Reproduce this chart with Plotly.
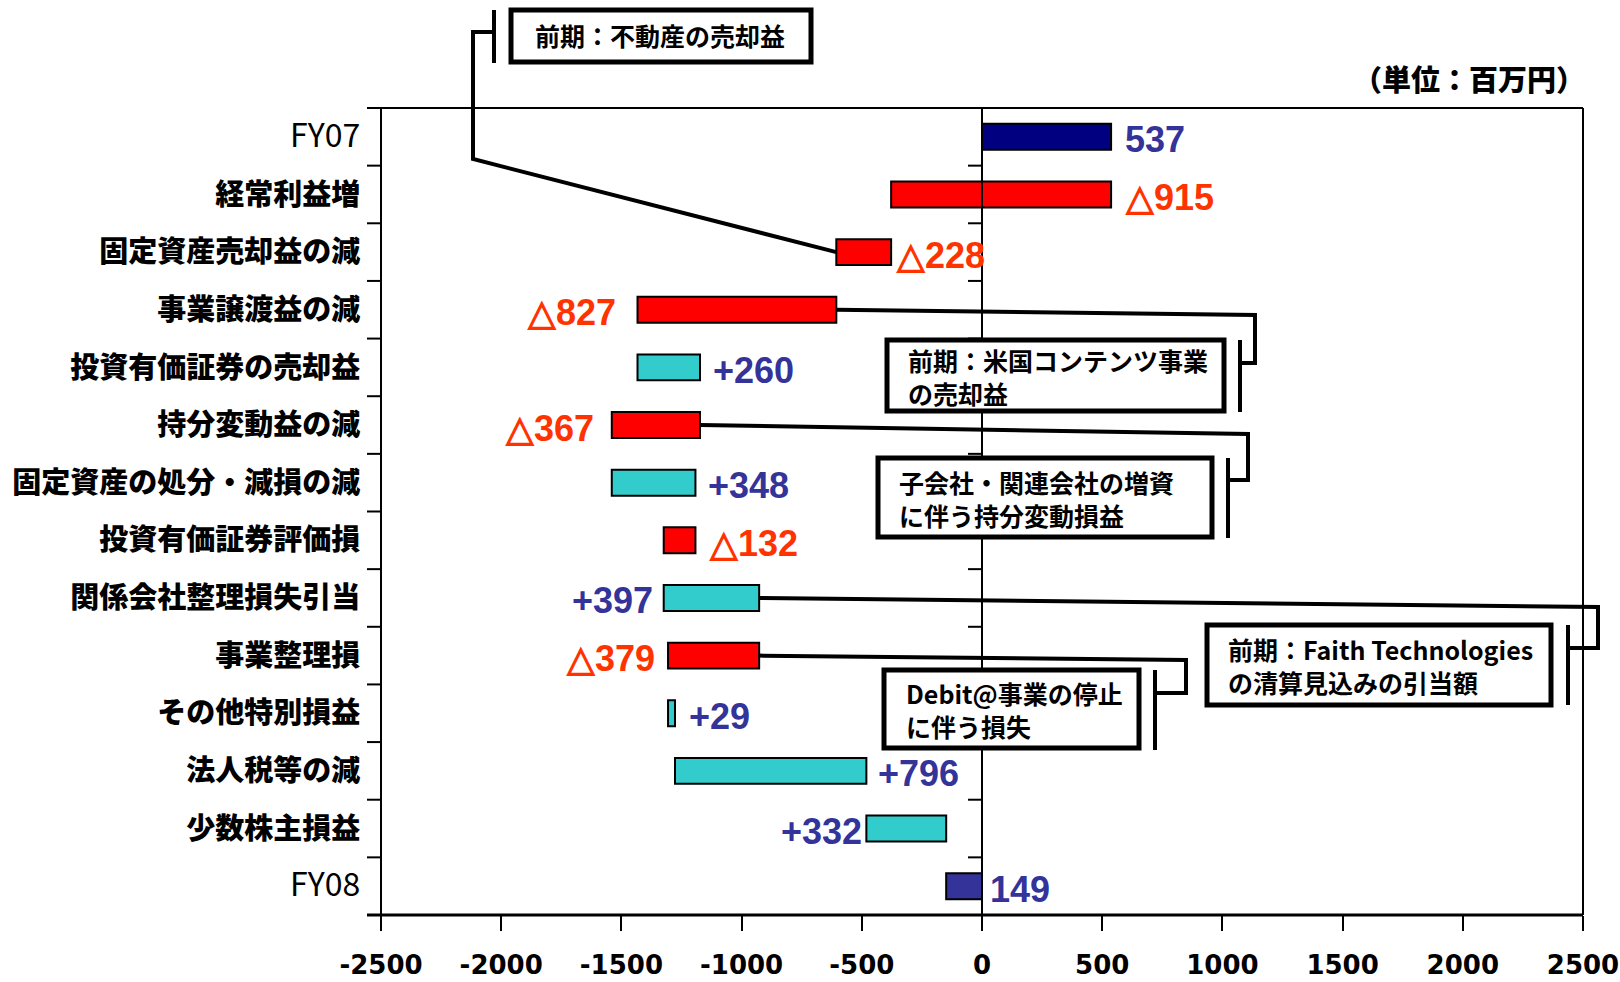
import plotly.graph_objects as go

# ---- data (百万円) ----
categories = [
    "FY07", "経常利益増", "固定資産売却益の減", "事業譲渡益の減", "投資有価証券の売却益",
    "持分変動益の減", "固定資産の処分・減損の減", "投資有価証券評価損", "関係会社整理損失引当",
    "事業整理損", "その他特別損益", "法人税等の減", "少数株主損益", "FY08",
]
fy07_total = 537
changes = [-915, -228, -827, 260, -367, 348, -132, 397, -379, 29, 796, 332]
fy08_total = -149
x_ticks = [-2500, -2000, -1500, -1000, -500, 0, 500, 1000, 1500, 2000, 2500]
unit_label = "（単位：百万円）"
callout_texts = [
    ["前期：不動産の売却益"],
    ["前期：米国コンテンツ事業", "の売却益"],
    ["子会社・関連会社の増資", "に伴う持分変動損益"],
    ["前期：Faith Technologies", "の清算見込みの引当額"],
    ["Debit@事業の停止", "に伴う損失"],
]

# ---- waterfall geometry from the data ----
starts, ends, kinds = [0], [fy07_total], ["total07"]
running = fy07_total
for d in changes:
    starts.append(running)
    running += d
    ends.append(running)
    kinds.append("up" if d > 0 else "down")
starts.append(0)
ends.append(fy08_total)
kinds.append("total08")

bases = [min(s, e) for s, e in zip(starts, ends)]
lengths = [abs(e - s) for s, e in zip(starts, ends)]
deltas = [fy07_total] + changes + [fy08_total]

FILL = {"total07": "#000080", "total08": "#333399", "up": "#33CCCC", "down": "#FF0000"}
TEXT = {"total07": "#333399", "total08": "#333399", "up": "#333399", "down": "#FF3300"}


def label_for(kind, v):
    if kind == "down":
        return "△%d" % abs(v)
    if kind == "up":
        return "+%d" % v
    return "%d" % abs(v)


# ---- page / plot-area geometry (pixels) ----
W, H = 1620, 982
L, R, T, B = 381, 1583, 108, 915
XMIN, XMAX = x_ticks[0], x_ticks[-1]
N = len(categories)


def px_x(p):
    return (p - L) / (R - L)


def px_y(p):
    return (B - p) / (B - T)


def dat_x(v):
    return (v - XMIN) / (XMAX - XMIN)


def row_y(i):
    return 1 - (i + 0.5) / N


idx = list(range(N))

fig = go.Figure()
fig.add_trace(go.Bar(
    y=idx, x=lengths, base=bases, orientation="h", width=0.45,
    marker=dict(color=[FILL[k] for k in kinds], line=dict(color="black", width=2)),
    hoverinfo="skip",
))

# value labels beside each bar: side and pixel gap per row
label_side = ["r", "r", "r", "l", "r", "l", "r", "r", "l", "l", "r", "r", "l", "r"]
label_gap = [12, 12, 3, 20, 11, 16, 11, 12, 9, 11, 12, 10, 2, 6]
annotations = []
for i, k in enumerate(kinds):
    lo, hi = bases[i], bases[i] + lengths[i]
    right = label_side[i] == "r"
    annotations.append(dict(
        x=hi if right else lo, y=i, xref="x", yref="y",
        xanchor="left" if right else "right", yanchor="middle",
        xshift=label_gap[i] if right else -label_gap[i], yshift=-3,
        text="<b>%s</b>" % label_for(k, deltas[i]), showarrow=False,
        font=dict(family="Liberation Sans, Arial, sans-serif", size=36, color=TEXT[k]),
    ))

annotations.append(dict(
    x=px_x(1587), y=px_y(78), xref="paper", yref="paper", xanchor="right", yanchor="middle",
    text=unit_label, showarrow=False,
    font=dict(family="Noto Sans CJK JP", size=29, color="black", weight=900),
))

shapes = []


def seg(x0, y0, x1, y1, width=2):
    shapes.append(dict(type="line", xref="paper", yref="paper", x0=x0, y0=y0, x1=x1, y1=y1,
                       line=dict(color="black", width=width), layer="above"))


# frame: top edge, right edge, left axis, bottom axis
seg(px_x(367), 1, 1, 1)
seg(1, 0, 1, 1)
seg(0, 0, 0, 1)
seg(px_x(367), 0, 1, 0, width=3)
# zero line
seg(dat_x(0), 0, dat_x(0), 1)
# category boundary ticks on the left axis and on the zero line
for b in range(N + 1):
    yb = 1 - b / N
    seg(px_x(367), yb, 0, yb)
    seg(px_x(968), yb, dat_x(0), yb)

# callouts: bar row, bar end it hangs from, route, bracket, box, text anchor (pixels)
callouts = [
    dict(row=2, end="lo", route=[(473, 159), (473, 32), (494, 32)], bracket=(494, 10, 63),
         box=(511, 10, 811, 62), text_at=(533, 35)),
    dict(row=3, end="hi", route=[(1255, 315), (1255, 363), (1241, 363)], bracket=(1240, 340, 412),
         box=(887, 340, 1224, 411), text_at=(906, 376)),
    dict(row=5, end="hi", route=[(1248, 434), (1248, 480), (1229, 480)], bracket=(1228, 458, 538),
         box=(878, 458, 1212, 537), text_at=(897, 498)),
    dict(row=8, end="hi", route=[(1598, 607), (1598, 648), (1569, 648)], bracket=(1568, 625, 705),
         box=(1207, 625, 1551, 705), text_at=(1226, 665)),
    dict(row=9, end="hi", route=[(1186, 660), (1186, 693), (1156, 693)], bracket=(1155, 670, 750),
         box=(884, 670, 1139, 748), text_at=(904, 709)),
]

for c, texts in zip(callouts, callout_texts):
    r = c["row"]
    v = bases[r] if c["end"] == "lo" else bases[r] + lengths[r]
    pts = [(dat_x(v), row_y(r))] + [(px_x(a), px_y(b)) for a, b in c["route"]]
    path = "M" + " L".join("%.5f,%.5f" % p for p in pts)
    shapes.append(dict(type="path", xref="paper", yref="paper", path=path,
                       line=dict(color="black", width=4), layer="above"))
    bx, by0, by1 = c["bracket"]
    seg(px_x(bx), px_y(by0), px_x(bx), px_y(by1), width=4)
    x0, y0, x1, y1 = c["box"]
    shapes.append(dict(type="rect", xref="paper", yref="paper",
                       x0=px_x(x0), x1=px_x(x1), y0=px_y(y1), y1=px_y(y0),
                       line=dict(color="black", width=5), fillcolor="white", layer="above"))
    tx, ty = c["text_at"]
    annotations.append(dict(
        x=px_x(tx), y=px_y(ty), xref="paper", yref="paper", xanchor="left", yanchor="middle",
        align="left", text="<br>".join("<b>%s</b>" % t for t in texts), showarrow=False,
        font=dict(family="Noto Sans CJK JP", size=25, color="black"),
    ))

tick_text = [
    '<span style="font-weight:400;font-size:32px">%s</span>' % c if c.startswith("FY") else c
    for c in categories
]

fig.update_layout(
    width=W, height=H,
    margin=dict(l=L, r=W - R, t=T, b=H - B, pad=0, autoexpand=False),
    paper_bgcolor="white", plot_bgcolor="white",
    showlegend=False, hovermode=False,
    shapes=shapes, annotations=annotations,
    xaxis=dict(
        range=[XMIN, XMAX], tickmode="array", tickvals=x_ticks,
        ticktext=["%d" % v for v in x_ticks],
        ticks="outside", ticklen=15, tickwidth=2, tickcolor="black",
        ticklabelstandoff=12, automargin=False,
        tickfont=dict(family="DejaVu Sans", size=26, color="black", weight="bold"),
        showgrid=False, zeroline=False, showline=False,
    ),
    yaxis=dict(
        range=[N - 0.5, -0.5], tickmode="array", tickvals=idx, ticktext=tick_text,
        ticks="outside", ticklen=14, tickcolor="rgba(0,0,0,0)", automargin=False,
        tickfont=dict(family="Noto Sans CJK JP", size=29, color="black", weight=900),
        showgrid=False, zeroline=False, showline=False,
    ),
)

fig.write_html("out.html")
